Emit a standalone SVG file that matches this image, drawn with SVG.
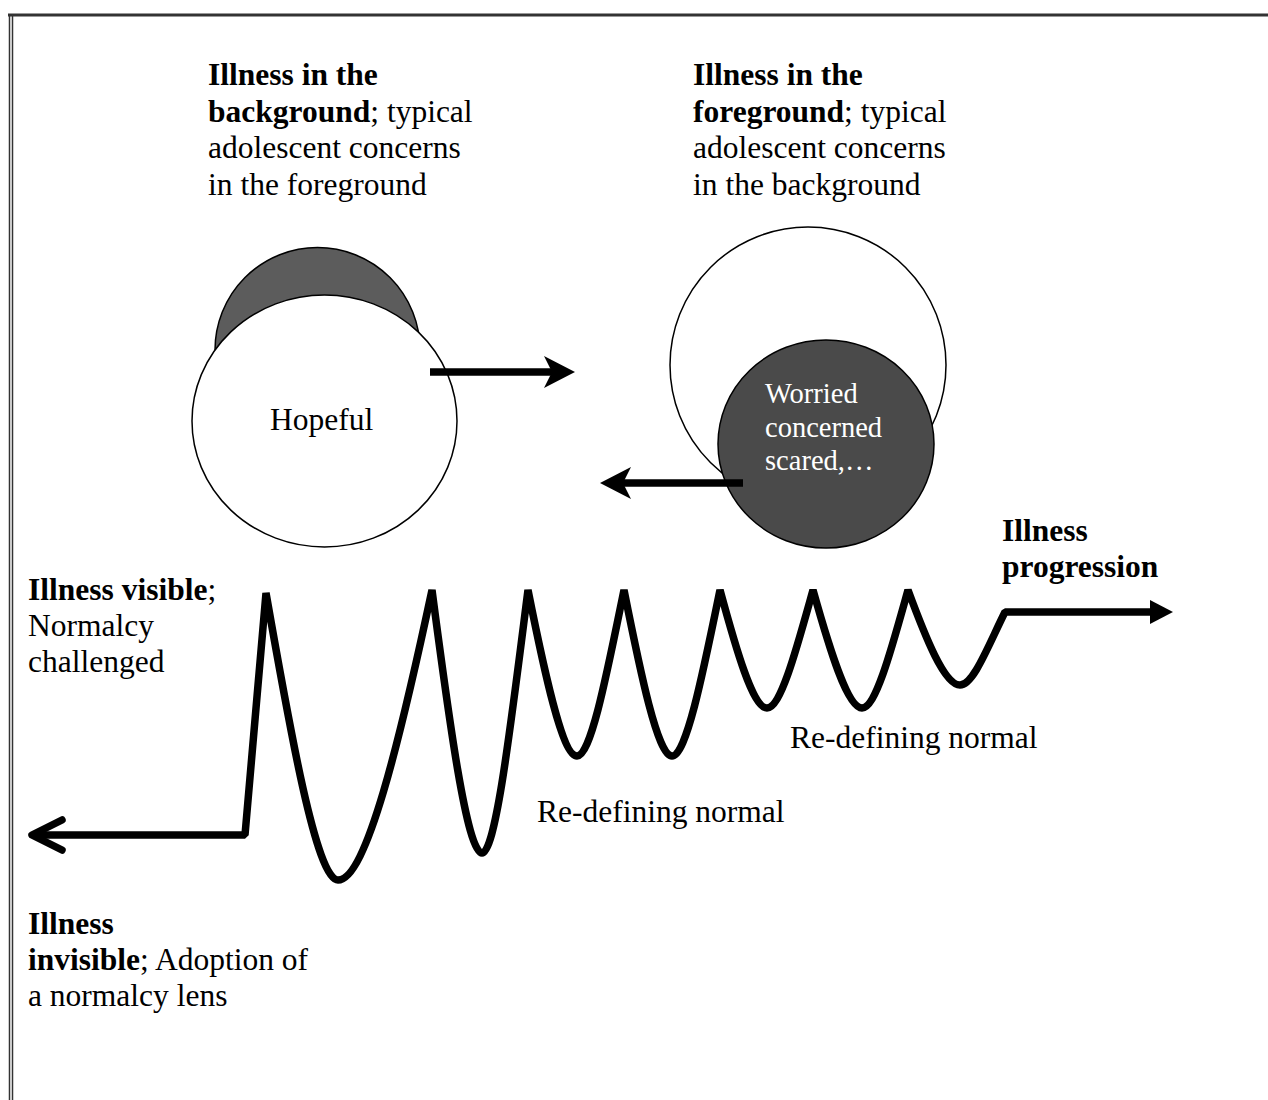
<svg xmlns="http://www.w3.org/2000/svg" width="1268" height="1100" viewBox="0 0 1268 1100">
  <style>
    text { font-family: "Liberation Serif", "Times New Roman", serif; font-size: 31.5px; fill: #000; }
    .b { font-weight: bold; }
    .w { fill: #fff; font-size: 28.5px; }
    .circ { stroke: #000; stroke-width: 1.5; }
    .white { fill: #fff; }
    .dark1 { fill: #5c5c5c; }
    .dark2 { fill: #4a4a4a; }
    .thick { fill: none; stroke: #000; stroke-width: 7.5; }
    .shaft { stroke: #000; stroke-width: 7.5; }
    .head { fill: #000; }
  </style>

  <g id="frame" stroke="#333" fill="none">
    <line x1="8" y1="15" x2="1268" y2="15" stroke-width="3"/>
    <line x1="9.5" y1="14" x2="9.5" y2="1100" stroke-width="1.5"/>
    <line x1="12.5" y1="14" x2="12.5" y2="1100" stroke-width="1.5"/>
  </g>

  <g id="label-background">
    <text x="208" y="85" class="b">Illness in the</text>
    <text x="208" y="122"><tspan class="b">background</tspan>; typical</text>
    <text x="208" y="158">adolescent concerns</text>
    <text x="208" y="195">in the foreground</text>
  </g>

  <g id="label-foreground">
    <text x="693" y="85" class="b">Illness in the</text>
    <text x="693" y="122"><tspan class="b">foreground</tspan>; typical</text>
    <text x="693" y="158">adolescent concerns</text>
    <text x="693" y="195">in the background</text>
  </g>

  <g id="node-hopeful">
    <circle cx="317.5" cy="350" r="102.5" class="circ dark1"/>
    <ellipse cx="324.5" cy="421" rx="132.5" ry="126" class="circ white"/>
    <text x="270" y="430">Hopeful</text>
  </g>

  <g id="node-worried">
    <circle cx="808" cy="365" r="138" class="circ white"/>
    <ellipse cx="826" cy="444" rx="108" ry="104" class="circ dark2"/>
    <text x="765" y="403" class="w">Worried</text>
    <text x="765" y="437" class="w">concerned</text>
    <text x="765" y="470" class="w">scared,…</text>
  </g>

  <g id="label-visible">
    <text x="28" y="600"><tspan class="b">Illness visible</tspan>;</text>
    <text x="28" y="636">Normalcy</text>
    <text x="28" y="672">challenged</text>
  </g>

  <g id="label-invisible">
    <text x="28" y="934" class="b">Illness</text>
    <text x="28" y="970"><tspan class="b">invisible</tspan>; Adoption of</text>
    <text x="28" y="1006">a normalcy lens</text>
  </g>

  <g id="label-progression">
    <text x="1002" y="541" class="b">Illness</text>
    <text x="1002" y="577" class="b">progression</text>
  </g>

  <g id="label-redefining-1">
    <text x="537" y="822">Re-defining normal</text>
  </g>
  <g id="label-redefining-2">
    <text x="790" y="748">Re-defining normal</text>
  </g>

  <g id="connectors">
    <line x1="430" y1="372" x2="554" y2="372" class="shaft"/>
    <path class="head" d="M575 372 L544 356 L552 372 L544 388 Z"/>
    <line x1="743" y1="483" x2="622" y2="483" class="shaft"/>
    <path class="head" d="M600 483 L631 467 L623 483 L631 499 Z"/>
    <path class="thick" stroke-linejoin="bevel" d="M 32 835 L 245 835 L 266 593
      C 290 730 316.4 880 338 880
      C 366.2 880 400 740 432 590
      C 449 720 467 853 482 853
      C 495.8 853 511 723 528 590
      C 544.5 673 562.3 756 577 756
      C 591.1 756 607 673 624 590
      C 640.5 673 657.6 756 672 756
      C 686.4 756 703 673 720 590
      C 736 649 752.9 708 767 708
      C 780.8 708 796.5 649 813 590
      C 829.5 649 847.3 708 862 708
      C 875.8 708 891.5 649 908 590
      C 925.5 637.5 944.4 685 960 685
      C 973.5 685 988.5 645 1005 612
      L 1152 612"/>
    <path class="thick" stroke-linecap="round" stroke-linejoin="round" d="M 62 820 L 32 835 L 62 850"/>
    <path class="head" d="M1150 600 L1173 612 L1150 624 Z"/>
  </g>
</svg>
